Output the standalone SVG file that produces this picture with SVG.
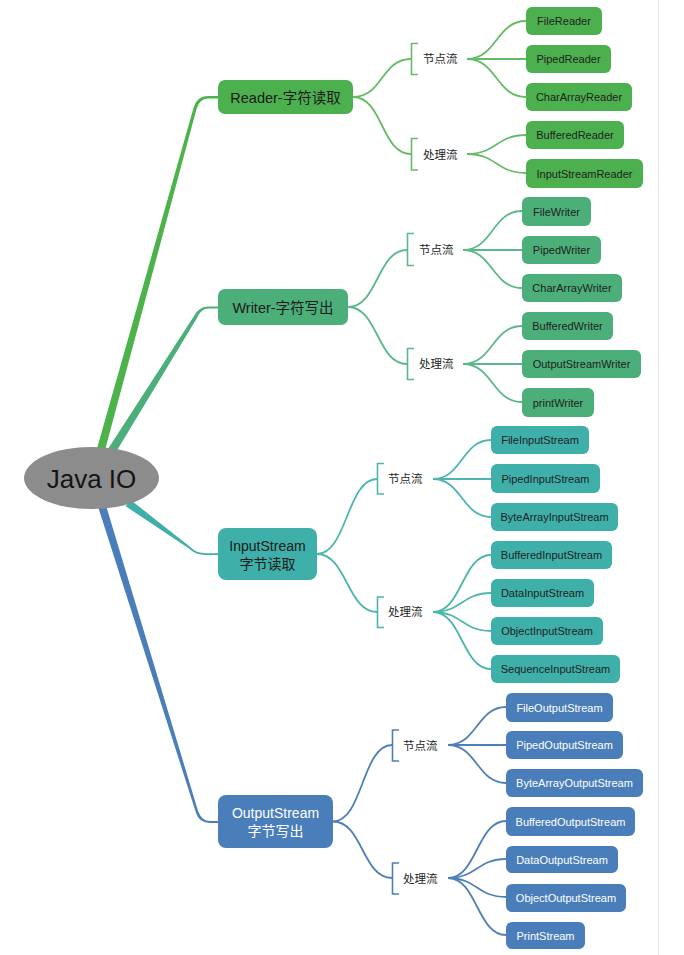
<svg xmlns="http://www.w3.org/2000/svg" width="684" height="955" viewBox="0 0 684 955">
<style>
text{font-family:"Liberation Sans",Arial,"Noto Sans CJK SC",sans-serif;dominant-baseline:central}
.leaf{font-size:11px;text-anchor:middle}
.main{font-size:14.5px;text-anchor:middle;fill:#1a1a1a}
.lbl{font-size:11.5px;fill:#1e1e1e}
.br{fill:none;stroke-width:1.6}
.cv{fill:none;stroke-width:1.8}
.r .box{fill:#4db04f}.r text.leaf{fill:#1e1e1e}
.w .box{fill:#4caf7a}.w text.leaf{fill:#1e1e1e}
.i .box{fill:#3fb0a9}.i text.leaf{fill:#1e1e1e}
.o .box{fill:#4a7ebb}.o text.leaf{fill:#ffffff}
.rc{stroke:#66bb66}.wc{stroke:#5cb88a}.ic{stroke:#4db5ae}.oc{stroke:#4f80b5}
</style>
<rect x="0" y="0" width="684" height="955" fill="#ffffff"/>
<line x1="658.5" y1="0" x2="658.5" y2="955" stroke="#e8e8e8" stroke-width="1"/>

<g id="connectors">
  <path d="M96,452 L193.5,108 Q197,96 208,96 L218,96 L218,98.5 L208,98.5 Q199.5,98.5 196.5,109 L104.5,452 Z" fill="#4cb24a"/>
  <path d="M106,452 L194,316 Q199,306.5 208,306.5 L218,306.5 L218,308.5 L208,308.5 Q201,308.5 197,318 L116,452 Z" fill="#4caf7a"/>
  <path d="M130.4,499.8 L190.6,547.2 Q196,553 206,553.2 L218,553.2 L218,555 L206,555 Q195,555 189.4,548.8 L125.6,506.2 Z" fill="#3fb0a9"/>
  <path d="M105.8,504.8 L198.2,811.5 Q202,821 210,821 L218,821 L218,823 L210,823 Q199,823 195.9,812.5 L98.2,507.2 Z" fill="#4a7ebb"/>

  <g class="cv rc">
    <path d="M353,97 C383,97 381,59 411,59"/>
    <path d="M353,97 C383,97 381,154 411,154"/>
    <path d="M467,59 C497,59 496,21 526,21"/>
    <path d="M467,59 L526,59"/>
    <path d="M467,59 C497,59 496,97 526,97"/>
    <path d="M467,154 C497,154 496,135 526,135"/>
    <path d="M467,154 C497,154 496,173 526,173"/>
  </g>
  <g class="cv wc">
    <path d="M348,307 C378,307 377,250 407,250"/>
    <path d="M348,307 C378,307 377,364 407,364"/>
    <path d="M463,250 C493,250 492,211 522,211"/>
    <path d="M463,250 L522,250"/>
    <path d="M463,250 C493,250 492,288 522,288"/>
    <path d="M463,364 C493,364 492,326 522,326"/>
    <path d="M463,364 L522,364"/>
    <path d="M463,364 C493,364 492,402 522,402"/>
  </g>
  <g class="cv ic">
    <path d="M317,554 C347,554 347,479 377,479"/>
    <path d="M317,554 C347,554 347,612 377,612"/>
    <path d="M433,479 C462,479 462,440 491,440"/>
    <path d="M433,479 L491,479"/>
    <path d="M433,479 C462,479 462,517 491,517"/>
    <path d="M433,612 C462,612 462,555 491,555"/>
    <path d="M433,612 C462,612 462,593 491,593"/>
    <path d="M433,612 C462,612 462,631 491,631"/>
    <path d="M433,612 C462,612 462,669 491,669"/>
  </g>
  <g class="cv oc">
    <path d="M333,821.5 C363,821.5 362,745 392,745"/>
    <path d="M333,821.5 C363,821.5 362,878 392,878"/>
    <path d="M448,745 C477,745 477,707 506,707"/>
    <path d="M448,745 L506,745"/>
    <path d="M448,745 C477,745 477,783 506,783"/>
    <path d="M448,878 C477,878 477,821 506,821"/>
    <path d="M448,878 C477,878 477,859 506,859"/>
    <path d="M448,878 C477,878 477,897 506,897"/>
    <path d="M448,878 C477,878 477,935 506,935"/>
  </g>
  <path class="br rc" d="M418,43.5 H411.5 V74.5 H418 M418,138.5 H411.5 V170 H418"/>
  <path class="br wc" d="M414,233.5 H407.5 V265.5 H414 M414,348.5 H407.5 V379.5 H414"/>
  <path class="br ic" d="M384,463.5 H377.5 V494 H384 M384,597 H377.5 V627.5 H384"/>
  <path class="br oc" d="M399,730 H392.5 V761 H399 M399,863 H392.5 V894 H399"/>
</g>

<g id="root">
  <ellipse cx="91.5" cy="478" rx="67.5" ry="31" fill="#8c8c8c"/>
  <text x="91.5" y="479" style="font-size:26px;text-anchor:middle;fill:#141414">Java IO</text>
</g>

<g id="reader" class="r">
  <rect class="box" x="218" y="80" width="135" height="34" rx="7"/>
  <text class="main" x="285.5" y="97.5">Reader-字符读取</text>
</g>
<g id="reader-node" class="r"><text class="lbl" x="423" y="59">节点流</text></g>
<g id="reader-proc" class="r"><text class="lbl" x="423" y="154.5">处理流</text></g>
<g id="FileReader" class="r"><rect class="box" x="526" y="7" width="76" height="28" rx="6"/><text class="leaf" x="564" y="21">FileReader</text></g>
<g id="PipedReader" class="r"><rect class="box" x="526" y="45" width="85" height="28" rx="6"/><text class="leaf" x="568.5" y="59">PipedReader</text></g>
<g id="CharArrayReader" class="r"><rect class="box" x="526" y="83" width="106" height="28" rx="6"/><text class="leaf" x="579" y="97">CharArrayReader</text></g>
<g id="BufferedReader" class="r"><rect class="box" x="526" y="121" width="98" height="28" rx="6"/><text class="leaf" x="575" y="135">BufferedReader</text></g>
<g id="InputStreamReader" class="r"><rect class="box" x="526" y="159" width="117" height="29" rx="6"/><text class="leaf" x="584.5" y="173.5">InputStreamReader</text></g>

<g id="writer" class="w">
  <rect class="box" x="218" y="289" width="130" height="36" rx="7"/>
  <text class="main" x="283" y="307.5">Writer-字符写出</text>
</g>
<g id="writer-node" class="w"><text class="lbl" x="419" y="250">节点流</text></g>
<g id="writer-proc" class="w"><text class="lbl" x="419" y="364">处理流</text></g>
<g id="FileWriter" class="w"><rect class="box" x="522" y="197" width="69" height="29" rx="6"/><text class="leaf" x="556.5" y="211.5">FileWriter</text></g>
<g id="PipedWriter" class="w"><rect class="box" x="522" y="236" width="79" height="28" rx="6"/><text class="leaf" x="561.5" y="250">PipedWriter</text></g>
<g id="CharArrayWriter" class="w"><rect class="box" x="522" y="274" width="100" height="28" rx="6"/><text class="leaf" x="572" y="288">CharArrayWriter</text></g>
<g id="BufferedWriter" class="w"><rect class="box" x="522" y="312" width="91" height="28" rx="6"/><text class="leaf" x="567.5" y="326">BufferedWriter</text></g>
<g id="OutputStreamWriter" class="w"><rect class="box" x="522" y="350" width="119" height="28" rx="6"/><text class="leaf" x="581.5" y="364">OutputStreamWriter</text></g>
<g id="printWriter" class="w"><rect class="box" x="522" y="388" width="72" height="29" rx="6"/><text class="leaf" x="558" y="402.5">printWriter</text></g>

<g id="inputstream" class="i">
  <rect class="box" x="218" y="528" width="99" height="52" rx="8"/>
  <text class="main" style="font-size:14px" x="267.5" y="546">InputStream</text>
  <text class="main" style="font-size:14px" x="267.5" y="563.5">字节读取</text>
</g>
<g id="input-node" class="i"><text class="lbl" x="388" y="479">节点流</text></g>
<g id="input-proc" class="i"><text class="lbl" x="388" y="612">处理流</text></g>
<g id="FileInputStream" class="i"><rect class="box" x="491" y="426" width="98" height="28" rx="6"/><text class="leaf" x="540" y="440">FileInputStream</text></g>
<g id="PipedInputStream" class="i"><rect class="box" x="491" y="464" width="109" height="29" rx="6"/><text class="leaf" x="545.5" y="478.5">PipedInputStream</text></g>
<g id="ByteArrayInputStream" class="i"><rect class="box" x="491" y="503" width="127" height="28" rx="6"/><text class="leaf" x="554.5" y="517">ByteArrayInputStream</text></g>
<g id="BufferedInputStream" class="i"><rect class="box" x="491" y="541" width="121" height="28" rx="6"/><text class="leaf" x="551.5" y="555">BufferedInputStream</text></g>
<g id="DataInputStream" class="i"><rect class="box" x="491" y="579" width="103" height="28" rx="6"/><text class="leaf" x="542.5" y="593">DataInputStream</text></g>
<g id="ObjectInputStream" class="i"><rect class="box" x="491" y="617" width="112" height="28" rx="6"/><text class="leaf" x="547" y="631">ObjectInputStream</text></g>
<g id="SequenceInputStream" class="i"><rect class="box" x="491" y="655" width="129" height="28" rx="6"/><text class="leaf" x="555.5" y="669">SequenceInputStream</text></g>

<g id="outputstream" class="o">
  <rect class="box" x="218" y="795" width="115" height="53" rx="8"/>
  <text class="main" style="font-size:14px;fill:#ffffff" x="275.5" y="812.5">OutputStream</text>
  <text class="main" style="font-size:14px;fill:#ffffff" x="275.5" y="831">字节写出</text>
</g>
<g id="output-node" class="o"><text class="lbl" x="403" y="745.5">节点流</text></g>
<g id="output-proc" class="o"><text class="lbl" x="403" y="878.5">处理流</text></g>
<g id="FileOutputStream" class="o"><rect class="box" x="506" y="693" width="107" height="29" rx="6"/><text class="leaf" x="559.5" y="707.5">FileOutputStream</text></g>
<g id="PipedOutputStream" class="o"><rect class="box" x="506" y="731" width="117" height="28" rx="6"/><text class="leaf" x="564.5" y="745">PipedOutputStream</text></g>
<g id="ByteArrayOutputStream" class="o"><rect class="box" x="506" y="769" width="137" height="28" rx="6"/><text class="leaf" x="574.5" y="783">ByteArrayOutputStream</text></g>
<g id="BufferedOutputStream" class="o"><rect class="box" x="506" y="807" width="129" height="29" rx="6"/><text class="leaf" x="570.5" y="821.5">BufferedOutputStream</text></g>
<g id="DataOutputStream" class="o"><rect class="box" x="506" y="846" width="112" height="27" rx="6"/><text class="leaf" x="562" y="859.5">DataOutputStream</text></g>
<g id="ObjectOutputStream" class="o"><rect class="box" x="506" y="884" width="120" height="28" rx="6"/><text class="leaf" x="566" y="898">ObjectOutputStream</text></g>
<g id="PrintStream" class="o"><rect class="box" x="506" y="922" width="79" height="27" rx="6"/><text class="leaf" x="545.5" y="935.5">PrintStream</text></g>
</svg>
